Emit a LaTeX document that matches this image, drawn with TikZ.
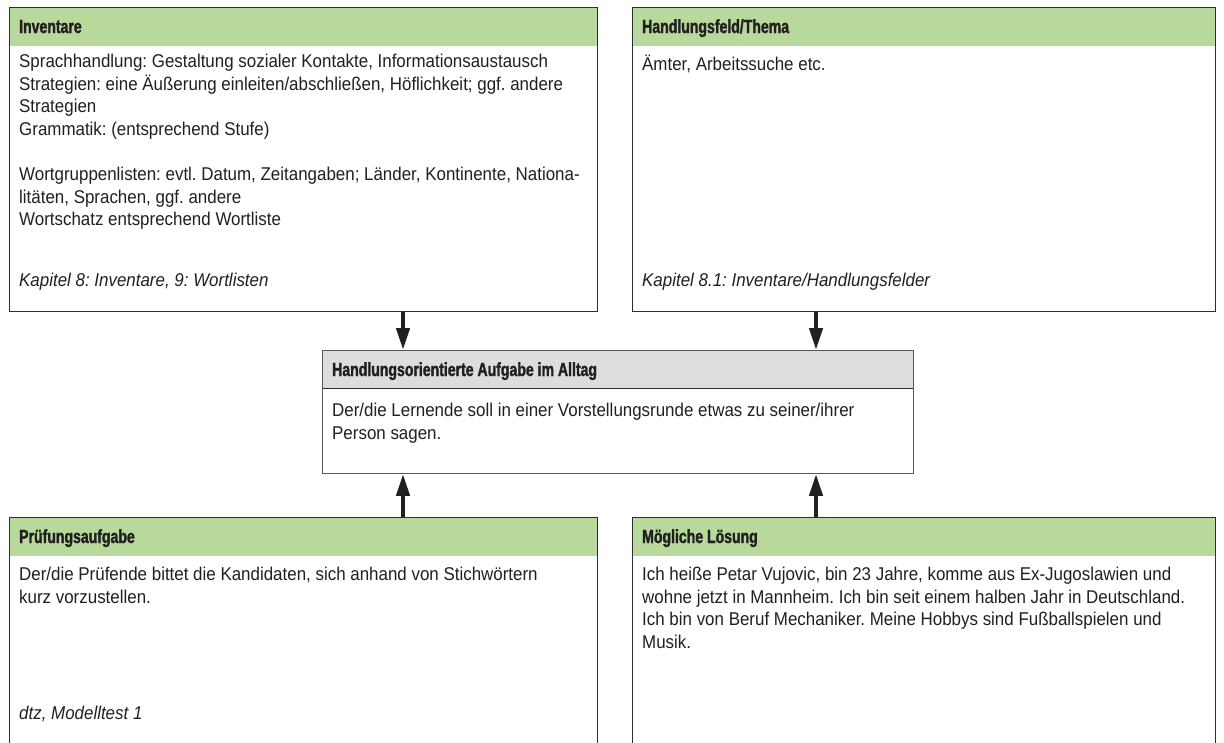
\documentclass[tikz,border=0pt]{standalone}
\usepackage{fontspec}
\setmainfont{Liberation Sans}[FakeStretch=0.915]
\newfontfamily\hdfont{Liberation Sans Bold}[FakeStretch=0.74, FakeBold=1.6]
\usetikzlibrary{arrows.meta}
\frenchspacing
\definecolor{hdgreen}{HTML}{B7D99B}
\definecolor{hdgray}{HTML}{DCDDDF}
\definecolor{ink}{HTML}{231F20}
\definecolor{frame}{HTML}{2E2E2E}
\tikzset{
  box/.style={draw=frame, line width=1.2pt, fill=white, rectangle, inner sep=0pt, anchor=north west},
  hdbar/.style={fill=hdgreen, draw=none, rectangle, inner sep=0pt, anchor=north west},
  graybar/.style={fill=hdgray, draw=none, rectangle, inner sep=0pt, anchor=north west},
  hdtext/.style={anchor=base west, inner sep=0pt, text=ink, font=\hdfont\fontsize{19}{22}\selectfont},
  bodytext/.style={anchor=north west, inner sep=0pt, text=ink, align=left,
     font=\fontsize{18.5}{22.6}\selectfont\frenchspacing, execute at begin node=\strut},
  captext/.style={anchor=base west, inner sep=0pt, text=ink, font=\itshape\fontsize{18.5}{22.6}\selectfont\frenchspacing},
  arr/.style={draw=ink, line width=4.2pt, -{Triangle[width=13pt,length=22pt]}}
}
\begin{document}
\begin{tikzpicture}[x=1pt,y=-1pt]
\useasboundingbox (0,0) rectangle (1224,742);
\clip (0,0) rectangle (1224,742);
% ---- top left: Inventare
\node[box, minimum width=588pt, minimum height=304pt] (inv) at (9,7) {};
\node[hdbar, minimum width=587pt, minimum height=38.5pt] (invh) at (9.6,7.6) {};
\node[hdtext] (invt) at (19,33) {Inventare};
\node[bodytext] (invb) at (19,54) {Sprachhandlung: Gestaltung sozialer Kontakte, Informationsaustausch\\
Strategien: eine Äußerung einleiten/abschließen, Höflichkeit; ggf. andere\\
Strategien\\
Grammatik: (entsprechend Stufe)\\[22.6pt]
Wortgruppenlisten: evtl. Datum, Zeitangaben; Länder, Kontinente, Nationa-\\
litäten, Sprachen, ggf. andere\\
Wortschatz entsprechend Wortliste};
\node[captext] (invc) at (19,286) {Kapitel 8: Inventare, 9: Wortlisten};
% ---- top right: Handlungsfeld
\node[box, minimum width=583pt, minimum height=304pt] (hf) at (632,7) {};
\node[hdbar, minimum width=582pt, minimum height=38.5pt] (hfh) at (632.6,7.6) {};
\node[hdtext] (hft) at (642,33) {Handlungsfeld/Thema};
\node[bodytext] (hfb) at (642,54) {Ämter, Arbeitssuche etc.};
\node[captext] (hfc) at (642,286) {Kapitel 8.1: Inventare/Handlungsfelder};
% ---- centre
\node[box, draw=frame!80, line width=0.9pt, minimum width=591pt, minimum height=123pt] (ctr) at (322,350) {};
\node[graybar, minimum width=590pt, minimum height=37.5pt] (ctrh) at (322.5,350.5) {};
\draw[frame, line width=1.2pt] (ctrh.south west) -- (ctrh.south east);
\node[hdtext] (ctrt) at (332,376) {Handlungsorientierte Aufgabe im Alltag};
\node[bodytext] (ctrb) at (332,403) {Der/die Lernende soll in einer Vorstellungsrunde etwas zu seiner/ihrer\\
Person sagen.};
% ---- bottom left
\node[box, minimum width=588pt, minimum height=240pt] (pa) at (9,517) {};
\node[hdbar, minimum width=587pt, minimum height=38.5pt] (pah) at (9.6,517.6) {};
\node[hdtext] (pat) at (19,543) {Prüfungsaufgabe};
\node[bodytext] (pab) at (19,567) {Der/die Prüfende bittet die Kandidaten, sich anhand von Stichwörtern\\
kurz vorzustellen.};
\node[captext] (pac) at (19,719) {dtz, Modelltest 1};
% ---- bottom right
\node[box, minimum width=583pt, minimum height=240pt] (ml) at (632,517) {};
\node[hdbar, minimum width=582pt, minimum height=38.5pt] (mlh) at (632.6,517.6) {};
\node[hdtext] (mlt) at (642,543) {Mögliche Lösung};
\node[bodytext] (mlb) at (642,567) {Ich heiße Petar Vujovic, bin 23 Jahre, komme aus Ex-Jugoslawien und\\
wohne jetzt in Mannheim. Ich bin seit einem halben Jahr in Deutschland.\\
Ich bin von Beruf Mechaniker. Meine Hobbys sind Fußballspielen und\\
Musik.};
% ---- arrows
\draw[arr] ([xshift=394pt]inv.south west) -- ([xshift=81pt]ctr.north west);
\draw[arr] ([xshift=184pt]hf.south west) -- ([xshift=494pt]ctr.north west);
\draw[arr] ([xshift=394pt]pa.north west) -- ([xshift=81pt]ctr.south west);
\draw[arr] ([xshift=184pt]ml.north west) -- ([xshift=494pt]ctr.south west);
\end{tikzpicture}
\end{document}
